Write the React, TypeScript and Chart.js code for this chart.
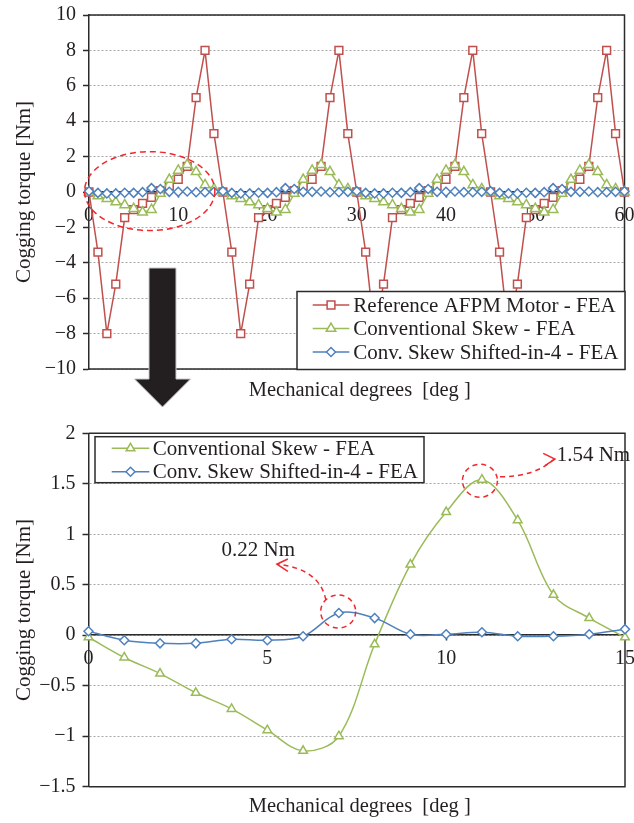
import React, { useEffect, useRef } from 'react';
import { Chart, registerables } from 'chart.js';

Chart.register(...registerables);

const FONT = '"Liberation Serif", "Times New Roman", Times, serif';
const TEXT = '#231f20';
const AXIS = '#2b2b2b';
const GRID = '#a6a6a6';
const RED = '#C0504D';
const GREEN = '#9BBB59';
const BLUE = '#4F81BD';
const NOTE = '#f0282d';

// ---------- data: full range (0..60 deg) ----------
const fullDegrees = [
  0, 1, 2, 3, 4, 5, 6, 7, 8, 9, 10, 11, 12, 13, 14,
  15, 16, 17, 18, 19, 20, 21, 22, 23, 24, 25, 26, 27, 28, 29,
  30, 31, 32, 33, 34, 35, 36, 37, 38, 39, 40, 41, 42, 43, 44,
  45, 46, 47, 48, 49, 50, 51, 52, 53, 54, 55, 56, 57, 58, 59,
  60,
];
const referenceTorque = [
  0, -3.4, -8, -5.2, -1.45, -1.0, -0.64, -0.3, 0.07, 0.34, 0.72, 1.45, 5.33, 8.0, 3.3,
  0, -3.4, -8, -5.2, -1.45, -1.0, -0.64, -0.3, 0.07, 0.34, 0.72, 1.45, 5.33, 8.0, 3.3,
  0, -3.4, -8, -5.2, -1.45, -1.0, -0.64, -0.3, 0.07, 0.34, 0.72, 1.45, 5.33, 8.0, 3.3,
  0, -3.4, -8, -5.2, -1.45, -1.0, -0.64, -0.3, 0.07, 0.34, 0.72, 1.45, 5.33, 8.0, 3.3,
  0,
];
const conventionalTorque = [
  -0.02, -0.22, -0.38, -0.57, -0.73, -0.94, -1.14, -1.0, -0.09, 0.7, 1.22, 1.54, 1.14, 0.4, 0.17,
  -0.02, -0.22, -0.38, -0.57, -0.73, -0.94, -1.14, -1.0, -0.09, 0.7, 1.22, 1.54, 1.14, 0.4, 0.17,
  -0.02, -0.22, -0.38, -0.57, -0.73, -0.94, -1.14, -1.0, -0.09, 0.7, 1.22, 1.54, 1.14, 0.4, 0.17,
  -0.02, -0.22, -0.38, -0.57, -0.73, -0.94, -1.14, -1.0, -0.09, 0.7, 1.22, 1.54, 1.14, 0.4, 0.17,
  -0.02,
];
const shiftedTorque = [
  0.04, -0.05, -0.08, -0.08, -0.04, -0.05, -0.01, 0.22, 0.17, 0.01, 0.01, 0.03, -0.01, -0.01, 0.01,
  0.04, -0.05, -0.08, -0.08, -0.04, -0.05, -0.01, 0.22, 0.17, 0.01, 0.01, 0.03, -0.01, -0.01, 0.01,
  0.04, -0.05, -0.08, -0.08, -0.04, -0.05, -0.01, 0.22, 0.17, 0.01, 0.01, 0.03, -0.01, -0.01, 0.01,
  0.04, -0.05, -0.08, -0.08, -0.04, -0.05, -0.01, 0.22, 0.17, 0.01, 0.01, 0.03, -0.01, -0.01, 0.01,
  0.04,
];

// ---------- data: zoomed range (0..15 deg) ----------
const zoomDegrees = [0, 1, 2, 3, 4, 5, 6, 7, 8, 9, 10, 11, 12, 13, 14, 15];
const zoomConventional = [-0.02, -0.22, -0.38, -0.57, -0.73, -0.94, -1.145, -1.0, -0.09, 0.7, 1.22, 1.54, 1.14, 0.4, 0.17, -0.02];
const zoomShifted = [0.04, -0.05, -0.08, -0.08, -0.04, -0.05, -0.01, 0.22, 0.17, 0.01, 0.01, 0.03, -0.01, -0.01, 0.01, 0.06];

const seriesLabels = ['Reference AFPM Motor - FEA', 'Conventional Skew - FEA', 'Conv. Skew Shifted-in-4 - FEA'];
const xTitle = 'Mechanical degrees  [deg ]';
const yTitle = 'Cogging torque [Nm]';
const minNote = '0.22 Nm';
const maxNote = '1.54 Nm';

function fmt(v: any) {
  const n = Number(v);
  if (n < 0) return '\u2212' + String(Math.abs(n));
  return String(n);
}

function toPoints(xs: number[], ys: number[]) {
  return xs.map((x, i) => ({ x, y: ys[i] }));
}

function drawMarker(ctx: CanvasRenderingContext2D, style: string, x: number, y: number, r: number, color: string) {
  ctx.save();
  ctx.beginPath();
  if (style === 'rect') {
    const s = Math.SQRT1_2 * r;
    ctx.rect(x - s, y - s, 2 * s, 2 * s);
  } else if (style === 'triangle') {
    let rad = 0;
    ctx.moveTo(x + Math.sin(rad) * r, y - Math.cos(rad) * r);
    rad += (2 * Math.PI) / 3;
    ctx.lineTo(x + Math.sin(rad) * r, y - Math.cos(rad) * r);
    rad += (2 * Math.PI) / 3;
    ctx.lineTo(x + Math.sin(rad) * r, y - Math.cos(rad) * r);
    ctx.closePath();
  } else {
    ctx.moveTo(x, y - r);
    ctx.lineTo(x + r, y);
    ctx.lineTo(x, y + r);
    ctx.lineTo(x - r, y);
    ctx.closePath();
  }
  ctx.fillStyle = '#fff';
  ctx.fill();
  ctx.strokeStyle = color;
  ctx.lineWidth = 1.5;
  ctx.stroke();
  ctx.restore();
}

function drawLegend(chart: any, box: { x: number; y: number; w: number; h: number }, rows: number[], lx0: number, lx1: number, tx: number) {
  const ctx: CanvasRenderingContext2D = chart.ctx;
  ctx.save();
  ctx.fillStyle = '#fff';
  ctx.fillRect(box.x, box.y, box.w, box.h);
  ctx.strokeStyle = AXIS;
  ctx.lineWidth = 1.5;
  ctx.strokeRect(box.x, box.y, box.w, box.h);
  chart.data.datasets.forEach((ds: any, i: number) => {
    const y = rows[i];
    ctx.strokeStyle = ds.borderColor;
    ctx.lineWidth = 1.5;
    ctx.beginPath();
    ctx.moveTo(lx0, y);
    ctx.lineTo(lx1, y);
    ctx.stroke();
    drawMarker(ctx, ds.pointStyle, (lx0 + lx1) / 2, y, ds.pointRadius, ds.borderColor);
    ctx.fillStyle = TEXT;
    ctx.font = `21px ${FONT}`;
    ctx.textAlign = 'left';
    ctx.textBaseline = 'middle';
    ctx.fillText(ds.label, tx, y + 1);
  });
  ctx.restore();
}

function drawBox(chart: any) {
  const { ctx, chartArea: a } = chart;
  ctx.save();
  ctx.strokeStyle = AXIS;
  ctx.lineWidth = 1.5;
  ctx.beginPath();
  ctx.moveTo(a.left, a.top);
  ctx.lineTo(a.right, a.top);
  ctx.lineTo(a.right, a.bottom);
  ctx.lineTo(a.left, a.bottom);
  ctx.stroke();
  ctx.restore();
}

function drawXTitle(chart: any, baseline: number) {
  const { ctx, chartArea: a } = chart;
  ctx.save();
  ctx.fillStyle = TEXT;
  ctx.font = `20.5px ${FONT}`;
  ctx.textAlign = 'center';
  ctx.textBaseline = 'alphabetic';
  ctx.fillText(xTitle, (a.left + a.right) / 2 + 3, baseline);
  ctx.restore();
}

const topDecor = {
  id: 'topDecor',
  beforeDatasetsDraw(chart: any) {
    drawBox(chart);
  },
  afterDatasetsDraw(chart: any) {
    const { ctx } = chart;
    const xs = chart.scales.x;
    const ys = chart.scales.y;
    // dashed ellipse around the first period
    const cx = xs.getPixelForValue(6.8);
    const cy = ys.getPixelForValue(0.05);
    const rx = xs.getPixelForValue(6.8 + 7.3) - cx;
    const ry = cy - ys.getPixelForValue(0.05 + 2.23);
    ctx.save();
    ctx.strokeStyle = NOTE;
    ctx.lineWidth = 1.5;
    ctx.setLineDash([6, 4]);
    ctx.beginPath();
    ctx.ellipse(cx, cy, rx, ry, 0, 0, Math.PI * 2);
    ctx.stroke();
    ctx.restore();

    drawLegend(chart, { x: 297, y: 291.5, w: 328, h: 78 }, [305, 328.5, 352], 312.7, 349.3, 353.3);
  },
  afterDraw(chart: any) {
    const { ctx } = chart;
    // big arrow
    ctx.save();
    ctx.beginPath();
    ctx.moveTo(149, 268);
    ctx.lineTo(176, 268);
    ctx.lineTo(176, 379);
    ctx.lineTo(190.5, 379);
    ctx.lineTo(162.5, 407);
    ctx.lineTo(134.5, 379);
    ctx.lineTo(149, 379);
    ctx.closePath();
    ctx.fillStyle = '#231f20';
    ctx.fill();
    ctx.strokeStyle = '#c8c8c8';
    ctx.lineWidth = 1;
    ctx.stroke();
    ctx.restore();
    drawXTitle(chart, 396);
  },
};

const bottomDecor = {
  id: 'bottomDecor',
  beforeDatasetsDraw(chart: any) {
    drawBox(chart);
  },
  afterDatasetsDraw(chart: any) {
    const { ctx } = chart;
    const xs = chart.scales.x;
    const ys = chart.scales.y;
    const p1 = { x: xs.getPixelForValue(zoomDegrees[7]), y: ys.getPixelForValue(zoomShifted[7]) };
    const p2 = { x: xs.getPixelForValue(zoomDegrees[11]), y: ys.getPixelForValue(zoomConventional[11]) };

    ctx.save();
    ctx.strokeStyle = NOTE;
    ctx.lineWidth = 1.5;
    ctx.setLineDash([5, 4]);
    // circles
    ctx.beginPath();
    ctx.ellipse(p1.x - 0.7, p1.y - 1.5, 17.5, 16.5, 0, 0, Math.PI * 2);
    ctx.stroke();
    ctx.beginPath();
    ctx.ellipse(p2.x - 2, p2.y + 1, 17.5, 16.5, 0, 0, Math.PI * 2);
    ctx.stroke();
    // curved leaders
    ctx.beginPath();
    ctx.moveTo(p1.x - 13, p1.y - 13);
    ctx.quadraticCurveTo(p1.x - 19, p1.y - 44, p1.x - 61, p1.y - 48.8);
    ctx.stroke();
    ctx.beginPath();
    ctx.moveTo(p2.x + 18, p2.y - 3);
    ctx.quadraticCurveTo(p2.x + 53, p2.y - 3, p2.x + 72, p2.y - 20.5);
    ctx.stroke();
    // arrow heads
    ctx.setLineDash([]);
    ctx.beginPath();
    ctx.moveTo(p1.x - 51, p1.y - 54);
    ctx.lineTo(p1.x - 62, p1.y - 48.8);
    ctx.lineTo(p1.x - 51, p1.y - 41.6);
    ctx.stroke();
    ctx.beginPath();
    ctx.moveTo(p2.x + 61.3, p2.y - 26.3);
    ctx.lineTo(p2.x + 73, p2.y - 20.7);
    ctx.lineTo(p2.x + 63, p2.y - 14);
    ctx.stroke();
    // labels
    ctx.fillStyle = TEXT;
    ctx.font = `21px ${FONT}`;
    ctx.textAlign = 'left';
    ctx.textBaseline = 'alphabetic';
    ctx.fillText(minNote, p1.x - 117.3, p1.y - 57.3);
    ctx.fillText(maxNote, p2.x + 74.7, p2.y - 18.3);
    ctx.restore();

    drawLegend(chart, { x: 95, y: 26.7, w: 329, h: 46 }, [38.3, 61.7], 111.7, 149.3, 152.7);
  },
  afterDraw(chart: any) {
    drawXTitle(chart, 402);
  },
};

function scaleOptions(xMax: number, xStep: number, yMin: number, yMax: number, yStep: number, yWidth: number) {
  return {
    x: {
      type: 'linear',
      min: 0,
      max: xMax,
      position: { y: 0 },
      ticks: { stepSize: xStep, font: { family: FONT, size: 20 }, color: TEXT, padding: 7, maxRotation: 0, autoSkip: false },
      grid: { drawOnChartArea: false, drawTicks: true, tickLength: 5, tickColor: AXIS, tickWidth: 1.5 },
      border: { display: true, color: AXIS, width: 1.5 },
      afterFit: (s: any) => {
        s.paddingLeft = 0;
        s.paddingRight = 0;
        s.paddingTop = 0;
        s.paddingBottom = 0;
      },
    },
    y: {
      type: 'linear',
      min: yMin,
      max: yMax,
      position: 'left',
      ticks: { stepSize: yStep, font: { family: FONT, size: 20 }, color: TEXT, padding: 7, callback: (v: any) => fmt(v) },
      grid: { color: GRID, lineWidth: 1, drawTicks: true, tickLength: 6, tickColor: AXIS, tickWidth: 1.5 },
      border: { display: true, color: AXIS, width: 1.5, dash: [2, 2] },
      title: { display: true, text: yTitle, font: { family: FONT, size: 21 }, color: TEXT, padding: { top: 12, bottom: 0 } },
      afterFit: (s: any) => {
        s.width = yWidth;
        s.paddingTop = 0;
        s.paddingBottom = 0;
        s.paddingLeft = 0;
        s.paddingRight = 0;
      },
    },
  };
}

function lineDataset(label: string, data: any[], color: string, style: string, radius: number, order: number, tension: number) {
  return {
    label,
    data,
    borderColor: color,
    backgroundColor: color,
    borderWidth: 1.5,
    pointStyle: style,
    pointRadius: radius,
    pointBackgroundColor: '#ffffff',
    pointBorderColor: color,
    pointBorderWidth: 1.5,
    tension,
    fill: false,
    clip: false,
    order,
  };
}

export default function App() {
  const topRef = useRef<HTMLCanvasElement>(null);
  const botRef = useRef<HTMLCanvasElement>(null);

  useEffect(() => {
    const top = new Chart(topRef.current as HTMLCanvasElement, {
      type: 'line',
      data: {
        datasets: [
          lineDataset(seriesLabels[0], toPoints(fullDegrees, referenceTorque), RED, 'rect', 5.5, 3, 0),
          lineDataset(seriesLabels[1], toPoints(fullDegrees, conventionalTorque), GREEN, 'triangle', 5.5, 2, 0),
          lineDataset(seriesLabels[2], toPoints(fullDegrees, shiftedTorque), BLUE, 'rectRot', 4.5, 1, 0),
        ],
      } as any,
      options: {
        responsive: false,
        animation: false,
        events: [],
        layout: { padding: { left: 0, right: 9.5, top: 15, bottom: 41 } },
        plugins: { legend: { display: false }, tooltip: { enabled: false }, title: { display: false } },
        scales: scaleOptions(60, 10, -10, 10, 2, 89) as any,
      } as any,
      plugins: [topDecor],
    });

    const bot = new Chart(botRef.current as HTMLCanvasElement, {
      type: 'line',
      data: {
        datasets: [
          lineDataset(seriesLabels[1], toPoints(zoomDegrees, zoomConventional), GREEN, 'triangle', 5, 2, 0.35),
          lineDataset(seriesLabels[2], toPoints(zoomDegrees, zoomShifted), BLUE, 'rectRot', 4.5, 1, 0.35),
        ],
      } as any,
      options: {
        responsive: false,
        animation: false,
        events: [],
        layout: { padding: { left: 0, right: 9, top: 23.3, bottom: 36.3 } },
        plugins: { legend: { display: false }, tooltip: { enabled: false }, title: { display: false } },
        scales: scaleOptions(15, 5, -1.5, 2, 0.5, 88.5) as any,
      } as any,
      plugins: [bottomDecor],
    });

    return () => {
      top.destroy();
      bot.destroy();
    };
  }, []);

  return (
    <div style={{ position: 'absolute', left: 0, top: 0, width: 634, height: 823, background: '#ffffff' }}>
      <canvas ref={topRef} width={634} height={410} style={{ position: 'absolute', left: 0, top: 0, display: 'block' }} />
      <canvas ref={botRef} width={634} height={413} style={{ position: 'absolute', left: 0, top: 410, display: 'block' }} />
    </div>
  );
}
